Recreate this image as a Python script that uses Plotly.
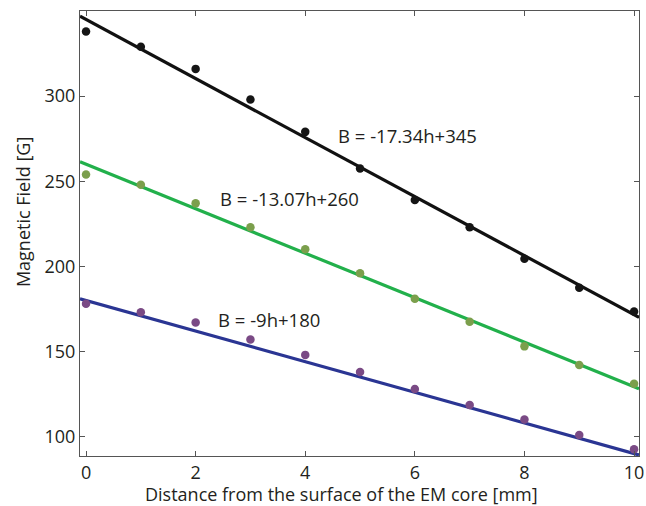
import plotly.graph_objects as go

# Distance from the EM core surface [mm]
distance = [0, 1, 2, 3, 4, 5, 6, 7, 8, 9, 10]

# Measured magnetic field [G] for three excitation levels
field_high = [338, 329, 316, 298, 279, 257.5, 239, 223, 204.5, 187.5, 173.5]
field_mid = [254, 248, 237, 223, 210, 196, 181, 167.5, 153, 142, 131]
field_low = [178, 173, 167, 157, 148, 138, 128, 118.5, 110, 101, 92.6]

# Linear fits B = slope*h + intercept
fit_slopes = [-17.34, -13.07, -9]
fit_intercepts = [345, 260, 180]
fit_labels = ["B = -17.34h+345", "B = -13.07h+260", "B = -9h+180"]
label_pos_x = [4.57, 2.40, 2.38]
label_pos_y = [277, 240, 168.5]

x_title = "Distance from the surface of the EM core [mm]"
y_title = "Magnetic Field [G]"

x_range = [-0.11, 10.09]
y_range = [88.6, 350]

line_colors = ["#111111", "#22b04b", "#2a3593"]
marker_colors = ["#151515", "#7b9f4c", "#7a4a85"]
series = [field_high, field_mid, field_low]

font_family = "Open Sans, Noto Sans, sans-serif"
text_color = "#231f20"
fig = go.Figure()

for slope, icpt, col in zip(fit_slopes, fit_intercepts, line_colors):
    fig.add_trace(go.Scatter(
        x=x_range, y=[slope * x + icpt for x in x_range],
        mode="lines", line=dict(color=col, width=3.2),
        showlegend=False, hoverinfo="skip"))

for vals, mcol in zip(series, marker_colors):
    fig.add_trace(go.Scatter(
        x=distance, y=vals, mode="markers",
        marker=dict(color=mcol, size=8.5, symbol="circle"),
        showlegend=False))

for txt, lx, ly in zip(fit_labels, label_pos_x, label_pos_y):
    fig.add_annotation(x=lx, y=ly, text=txt, showarrow=False,
                       xanchor="left", yanchor="middle",
                       font=dict(size=18.5, color=text_color, family=font_family))

# Axis titles placed as paper-anchored annotations
fig.add_annotation(x=0.468, y=-0.085, xref="paper", yref="paper",
                   text=x_title, showarrow=False,
                   xanchor="center", yanchor="middle",
                   font=dict(size=18, color=text_color, family=font_family))
fig.add_annotation(x=-0.103, y=0.549, xref="paper", yref="paper",
                   text=y_title, showarrow=False, textangle=-90,
                   xanchor="center", yanchor="middle",
                   font=dict(size=18, color=text_color, family=font_family))

axis_common = dict(
    showline=True, linecolor="#555555", linewidth=1.2, mirror="ticks",
    ticks="inside", ticklen=5, tickcolor="#555555", tickwidth=1.2,
    showgrid=False, zeroline=False, ticklabeloverflow="allow",
    tickfont=dict(size=18, color=text_color, family=font_family),
)

fig.update_xaxes(range=x_range, tickvals=[0, 2, 4, 6, 8, 10], **axis_common)
fig.update_yaxes(range=y_range, tickvals=[100, 150, 200, 250, 300], **axis_common)

fig.update_layout(
    width=646, height=506,
    margin=dict(l=80, r=2, t=11, b=50),
    paper_bgcolor="white", plot_bgcolor="white",
)

fig.write_html("out.html")
